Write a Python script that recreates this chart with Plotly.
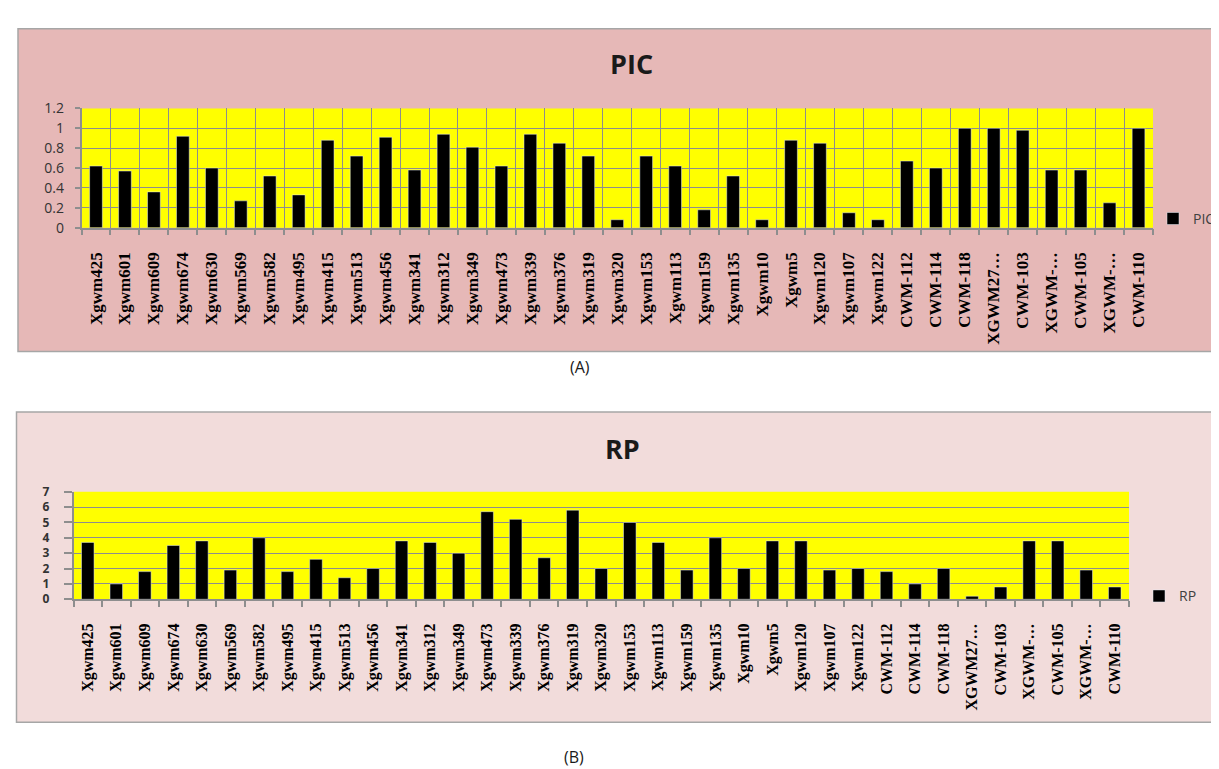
import plotly.graph_objects as go

markers = ["Xgwm425", "Xgwm601", "Xgwm609", "Xgwm674", "Xgwm630", "Xgwm569", "Xgwm582",
           "Xgwm495", "Xgwm415", "Xgwm513", "Xgwm456", "Xgwm341", "Xgwm312", "Xgwm349",
           "Xgwm473", "Xgwm339", "Xgwm376", "Xgwm319", "Xgwm320", "Xgwm153", "Xgwm113",
           "Xgwm159", "Xgwm135", "Xgwm10", "Xgwm5", "Xgwm120", "Xgwm107", "Xgwm122",
           "CWM-112", "CWM-114", "CWM-118", "XGWM27…", "CWM-103", "XGWM-…", "CWM-105",
           "XGWM-…", "CWM-110"]

pic_values = [0.62, 0.57, 0.36, 0.92, 0.60, 0.27, 0.52, 0.33, 0.88, 0.72, 0.91, 0.58,
              0.94, 0.81, 0.62, 0.94, 0.85, 0.72, 0.08, 0.72, 0.62, 0.18, 0.52, 0.08,
              0.88, 0.85, 0.15, 0.08, 0.67, 0.60, 1.00, 1.00, 0.98, 0.58, 0.58, 0.25, 1.00]

rp_values = [3.7, 1.0, 1.8, 3.5, 3.8, 1.9, 4.0, 1.8, 2.6, 1.4, 2.0, 3.8, 3.7, 3.0, 5.7,
             5.2, 2.7, 5.8, 2.0, 5.0, 3.7, 1.9, 4.0, 2.0, 3.8, 3.8, 1.9, 2.0, 1.8, 1.0,
             2.0, 0.2, 0.8, 3.8, 3.8, 1.9, 0.8]

positions = list(range(len(markers)))
boundaries = [i - 0.5 for i in range(len(markers) + 1)]

W, H = 1219, 769
GRID = "#8E8E8E"
YELLOW = "#FFFF00"

def px_x(v):
    return v / W

def px_y(v):
    return 1 - v / H

top_x = [px_x(73.5), px_x(1145)]
top_y = [px_y(215), px_y(92.7)]
bot_x = [px_x(65.5), px_x(1121)]
bot_y = [px_y(596), px_y(485.7)]

fig = go.Figure()
fig.add_trace(go.Bar(x=positions, y=pic_values, name="PIC", marker_color="black",
                     width=0.44, xaxis="x", yaxis="y", legend="legend"))
fig.add_trace(go.Bar(x=positions, y=rp_values, name="RP", marker_color="black",
                     width=0.44, xaxis="x2", yaxis="y2", legend="legend2"))

xlabel_font_top = dict(family="Liberation Serif", size=17, color="black", weight="bold")
xlabel_font_bot = dict(family="Liberation Serif", size=16, color="black", weight="bold")

fig.update_layout(
    width=W, height=H, autosize=False,
    margin=dict(l=0, r=0, t=0, b=0),
    paper_bgcolor="white", plot_bgcolor=YELLOW,
    showlegend=True,
    xaxis=dict(domain=top_x, anchor="y", range=[-0.5, len(markers) - 0.5],
               tickmode="array", tickvals=positions, ticktext=markers, tickangle=-90,
               ticks="outside", ticklen=6, tickcolor="rgba(0,0,0,0)",
               ticklabelstandoff=10,
               tickfont=xlabel_font_top, showgrid=False, zeroline=False,
               showline=True, linecolor=GRID, linewidth=1.5,
               minor=dict(tickmode="array", tickvals=boundaries, ticks="outside", ticklen=6,
                          tickcolor=GRID, tickwidth=1.5, showgrid=True, gridcolor=GRID,
                          gridwidth=1.3)),
    yaxis=dict(domain=top_y, anchor="x", range=[0, 1.2], dtick=0.2,
               ticks="outside", ticklen=5, tickcolor=GRID, tickwidth=1.5,
               ticklabelstandoff=8,
               tickfont=dict(family="Open Sans", size=14, color="#333333"),
               showgrid=True, gridcolor=GRID, gridwidth=1.3, zeroline=False,
               showline=True, linecolor=GRID, linewidth=1.5),
    xaxis2=dict(domain=bot_x, anchor="y2", range=[-0.5, len(markers) - 0.5],
                tickmode="array", tickvals=positions, ticktext=markers, tickangle=-90,
                ticks="outside", ticklen=6, tickcolor="rgba(0,0,0,0)",
                ticklabelstandoff=10,
                tickfont=xlabel_font_bot, showgrid=False, zeroline=False,
                showline=True, linecolor=GRID, linewidth=1.5,
                minor=dict(tickmode="array", tickvals=boundaries, ticks="outside", ticklen=6,
                           tickcolor=GRID, tickwidth=1.5, showgrid=False)),
    yaxis2=dict(domain=bot_y, anchor="x2", range=[0, 7], dtick=1,
                ticks="outside", ticklen=8, tickcolor=GRID, tickwidth=1.5,
                ticklabelstandoff=12,
                tickfont=dict(family="Open Sans", size=12, color="#333333", weight="bold"),
                showgrid=True, gridcolor=GRID, gridwidth=1.3, zeroline=False,
                showline=True, linecolor=GRID, linewidth=1.5),
    legend=dict(x=px_x(1145), y=px_y(206), xanchor="left", yanchor="middle",
                bgcolor="rgba(0,0,0,0)", itemwidth=30,
                font=dict(family="Open Sans", size=14, color="#404040")),
    legend2=dict(x=px_x(1131), y=px_y(593), xanchor="left", yanchor="middle",
                 bgcolor="rgba(0,0,0,0)", itemwidth=30,
                 font=dict(family="Open Sans", size=14, color="#404040")),
    shapes=[
        dict(type="rect", xref="paper", yref="paper", x0=px_x(10), x1=px_x(1222),
             y0=px_y(342), y1=px_y(11), fillcolor="#E6B8B7",
             line=dict(color="#A6A6A6", width=1.5), layer="below"),
        dict(type="rect", xref="paper", yref="paper", x0=px_x(8.5), x1=px_x(1222),
             y0=px_y(722), y1=px_y(404), fillcolor="#F2DCDB",
             line=dict(color="#A6A6A6", width=1.5), layer="below"),
        dict(type="rect", xref="paper", yref="paper", x0=top_x[0], x1=top_x[1],
             y0=top_y[0], y1=top_y[1], fillcolor=YELLOW, line=dict(width=0), layer="below"),
        dict(type="rect", xref="paper", yref="paper", x0=bot_x[0], x1=bot_x[1],
             y0=bot_y[0], y1=bot_y[1], fillcolor=YELLOW, line=dict(width=0), layer="below"),
    ],
    annotations=[
        dict(text="<b>PIC</b>", xref="paper", yref="paper", x=px_x(623), y=px_y(47),
             showarrow=False, xanchor="center", yanchor="middle",
             font=dict(family="Open Sans", size=27, color="#1A1A1A")),
        dict(text="<b>RP</b>", xref="paper", yref="paper", x=px_x(614), y=px_y(441),
             showarrow=False, xanchor="center", yanchor="middle",
             font=dict(family="Open Sans", size=27, color="#1A1A1A")),
        dict(text="(A)", xref="paper", yref="paper", x=px_x(572), y=px_y(358),
             showarrow=False, xanchor="center", yanchor="middle",
             font=dict(family="Open Sans", size=16, color="#1A1A1A")),
        dict(text="(B)", xref="paper", yref="paper", x=px_x(566), y=px_y(758),
             showarrow=False, xanchor="center", yanchor="middle",
             font=dict(family="Open Sans", size=16, color="#1A1A1A")),
    ],
)

fig.write_html("out.html")
